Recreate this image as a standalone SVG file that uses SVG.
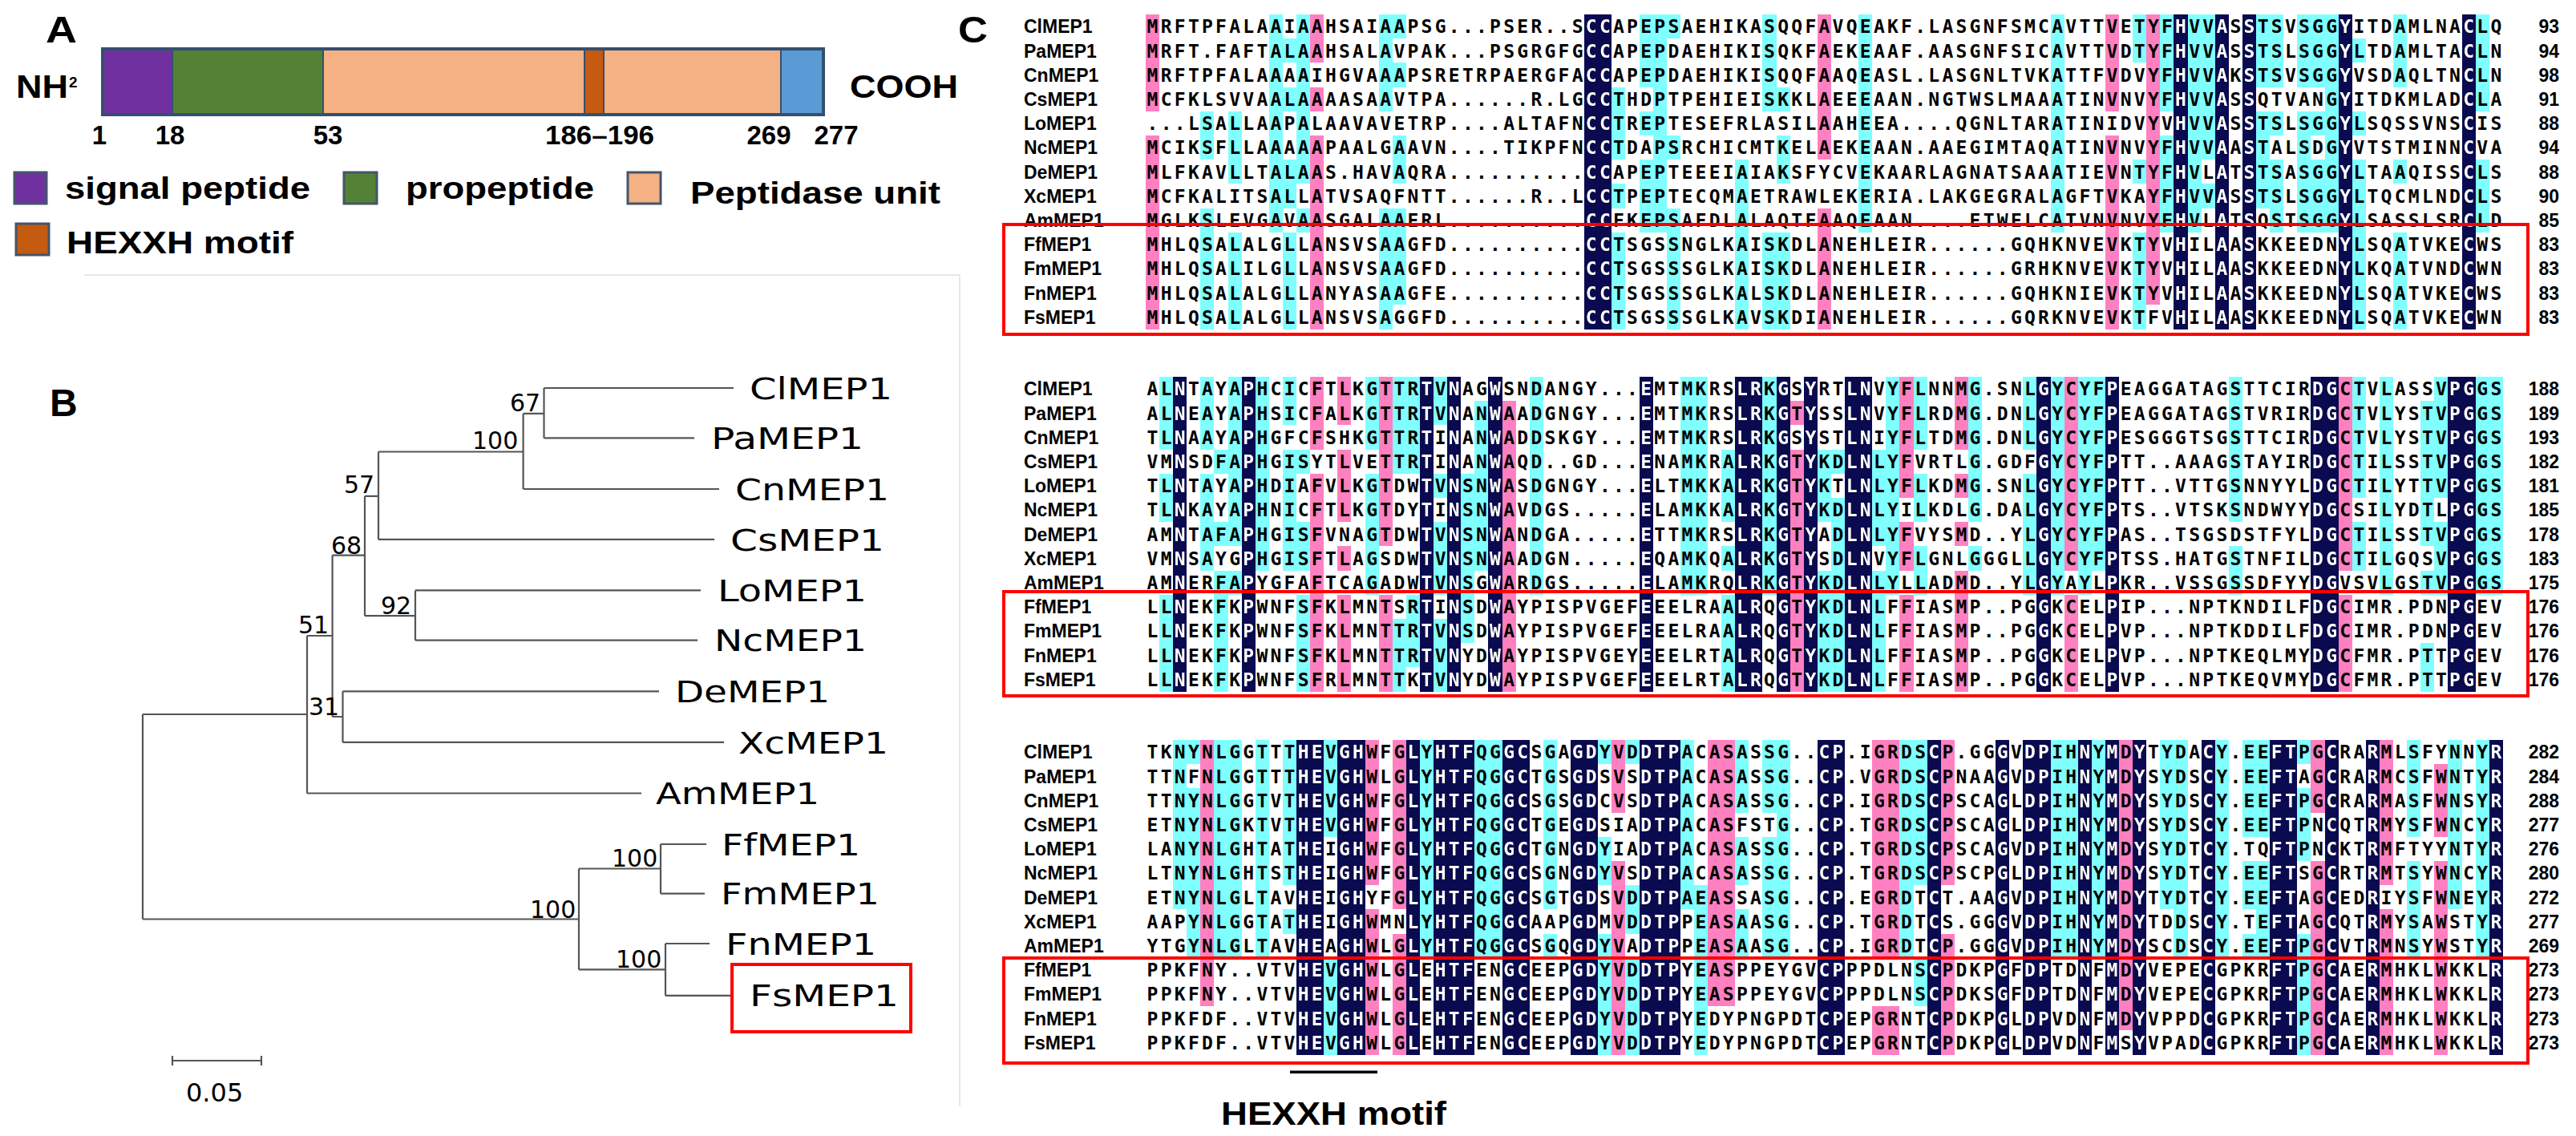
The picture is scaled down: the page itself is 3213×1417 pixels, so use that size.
<svg xmlns="http://www.w3.org/2000/svg" xmlns:xlink="http://www.w3.org/1999/xlink" width="3213" height="1417" viewBox="0 0 3213 1417">
<style>
.hd{font:700 47px "Liberation Sans",Arial,sans-serif;fill:#000}
.ab{font:700 40px "Liberation Sans",Arial,sans-serif;fill:#000}
.an{font:700 33px "Liberation Sans",Arial,sans-serif;fill:#000;text-anchor:middle}
.lg{font:700 38px "Liberation Sans",Arial,sans-serif;fill:#000}
.seg{stroke:#34506f;stroke-width:2}
.sw{stroke:#44546a;stroke-width:3}
.br{fill:none;stroke:#555;stroke-width:2.2}
.tl{font:37px "DejaVu Sans",Verdana,sans-serif;fill:#000}
.bs{font:30px "DejaVu Sans",Verdana,sans-serif;fill:#000}
.lb{font:700 23px "Liberation Sans",Arial,sans-serif;fill:#000}
.nm{font:700 23px "Liberation Sans",Arial,sans-serif;fill:#000;text-anchor:end}
.sq{font-family:"DejaVu Sans Mono",monospace;font-weight:700;font-size:23px;letter-spacing:3.253px}
.rb{fill:none;stroke:#ff0000;stroke-width:4}
</style>
<defs>
<g id="nv1" transform="translate(1428.95,-15.1) scale(17.1,30.2)"><rect x="32" y="0" width="2" height="13"/><rect x="75" y="0" width="1" height="13"/><rect x="78" y="0" width="1" height="13"/><rect x="80" y="0" width="1" height="13"/><rect x="87" y="0" width="1" height="13"/><rect x="96" y="0" width="1" height="13"/></g>
<g id="nv2" transform="translate(1428.95,-15.1) scale(17.1,30.2)"><rect x="2" y="0" width="1" height="13"/><rect x="7" y="0" width="1" height="13"/><rect x="20" y="0" width="1" height="13"/><rect x="22" y="0" width="1" height="13"/><rect x="25" y="0" width="1" height="13"/><rect x="36" y="0" width="1" height="13"/><rect x="43" y="0" width="2" height="13"/><rect x="46" y="0" width="1" height="13"/><rect x="48" y="0" width="1" height="13"/><rect x="51" y="0" width="2" height="13"/><rect x="65" y="0" width="1" height="13"/><rect x="70" y="0" width="1" height="13"/><rect x="85" y="0" width="2" height="13"/><rect x="95" y="0" width="2" height="13"/></g>
<g id="nv3" transform="translate(1428.95,-15.1) scale(17.1,30.2)"><rect x="11" y="0" width="2" height="13"/><rect x="14" y="0" width="2" height="13"/><rect x="19" y="0" width="1" height="13"/><rect x="21" y="0" width="3" height="13"/><rect x="26" y="0" width="2" height="13"/><rect x="31" y="0" width="2" height="13"/><rect x="36" y="0" width="3" height="13"/><rect x="49" y="0" width="2" height="13"/><rect x="57" y="0" width="1" height="13"/><rect x="62" y="0" width="1" height="13"/><rect x="64" y="0" width="2" height="13"/><rect x="68" y="0" width="1" height="13"/><rect x="70" y="0" width="1" height="13"/><rect x="72" y="0" width="1" height="13"/><rect x="77" y="0" width="1" height="13"/><rect x="82" y="0" width="2" height="13"/><rect x="86" y="0" width="1" height="13"/><rect x="89" y="0" width="1" height="13"/><rect x="98" y="0" width="1" height="13"/></g>
<mask id="m1" maskUnits="userSpaceOnUse" x="1400" y="-40" width="1800" height="440"><use href="#nv1" fill="#fff"/></mask>
<mask id="m2" maskUnits="userSpaceOnUse" x="1400" y="-40" width="1800" height="440"><use href="#nv2" fill="#fff"/></mask>
<mask id="m3" maskUnits="userSpaceOnUse" x="1400" y="-40" width="1800" height="440"><use href="#nv3" fill="#fff"/></mask>
<g id="t1" class="sq">
<text x="1430.6" y="8.3">MRFTPFALAAIAAHSAIAAPSG...PSER..SCCAPEPSAEHIKASQQFAVQEAKF.LASGNFSMCAVTTVETYFHVVASSTSVSGGYITDAMLNACLQ</text>
<text x="1430.6" y="38.5">MRFT.FAFTALAAHSALAVPAK...PSGRGFGCCAPEPDAEHIKISQKFAEKEAAF.AASGNFSICAVTTVDTYFHVVASSTSLSGGYLTDAMLTACLN</text>
<text x="1430.6" y="68.7">MRFTPFALAAAAIHGVAAAPSRETRPAERGFACCAPEPDAEHIKISQQFAAQEASL.LASGNLTVKATTFVDVYFHVVAKSTSVSGGYVSDAQLTNCLN</text>
<text x="1430.6" y="98.9">MCFKLSVVAALAAAASAAVTPA......R.LGCCTHDPTPEHIEISKKLAEEEAAN.NGTWSLMAAATINVNVYFHVVASSQTVANGYITDKMLADCLA</text>
<text x="1430.6" y="129.1">...LSALLAAPALAAVAVETRP....ALTAFNCCTREPTESEFRLASILAAHEEA....QGNLTARATINIDVYVHVVASSTSLSGGYLSQSSVNSCIS</text>
<text x="1430.6" y="159.3">MCIKSFLLAAAAAPAALGAAVN....TIKPFNCCTDAPSRCHICMTKELAEKEAAN.AAEGIMTAQATINVNVYFHVVAASTALSDGYVTSTMINNCVA</text>
<text x="1430.6" y="189.5">MLFKAVLLTALAAS.HAVAQRA..........CCAPEPTEEEIAIAKSFYCVEKAARLAGNATSAAATIEVNTYFHVLATSTSASGGYLTAAQISSCLS</text>
<text x="1430.6" y="219.7">MCFKALITSALLATVSAQFNTT......R..LCCTPEPTECQMAETRAWLEKERIA.LAKGEGRALAGFTVKAYFHVVASSTSLSGGYLTQCMLNDCLS</text>
<text x="1430.6" y="249.9">MGLKSLEVGAVAASGALAAERL..........CCFKEPSAFDLALAQTFAAQEAAN....ETWELCATVNVNVYFHVLATSQSTSGGYLSASSLSRCLD</text>
<text x="1430.6" y="280.1">MHLQSALALGLLANSVSAAGFD..........CCTSGSSNGLKAISKDLANEHLEIR......GQHKNVEVKTYVHILAASKKEEDNYLSQATVKECWS</text>
<text x="1430.6" y="310.3">MHLQSALILGLLANSVSAAGFD..........CCTSGSSSGLKAISKDLANEHLEIR......GRHKNVEVKTYVHILAASKKEEDNYLKQATVNDCWN</text>
<text x="1430.6" y="340.5">MHLQSALALGLLANYASAAGFE..........CCTSGSSSGLKALSKDLANEHLEIR......GQHKNIEVKTYVHILAASKKEEDNYLSQATVKECWS</text>
<text x="1430.6" y="370.7">MHLQSALALGLLANSVSAGGFD..........CCTSGSSSGLKAVSKDIANEHLEIR......GQRKNVEVKTFVHILAASKKEEDNYLSQATVKECWN</text>
</g>
<g id="t2" class="sq">
<text x="1430.6" y="8.3">ALNTAYAPHCICFTLKGTTRTVNAGWSNDANGY...EMTMKRSLRKGSYRTLNVYFLNNMG.SNLGYCYFPEAGGATAGSTTCIRDGCTVLASSVPGGS</text>
<text x="1430.6" y="38.5">ALNEAYAPHSICFALKGTTRTVNANWAADGNGY...EMTMKRSLRKGTYSSLNVYFLRDMG.DNLGYCYFPEAGGATAGSTVRIRDGCTVLYSTVPGGS</text>
<text x="1430.6" y="68.7">TLNAAYAPHGFCFSHKGTTRTINANWADDSKGY...EMTMKRSLRKGSYSTLNIYFLTDMG.DNLGYCYFPESGGGTSGSTTCIRDGCTVLYSTVPGGS</text>
<text x="1430.6" y="98.9">VMNSDFAPHGISYTLVETTRTINANWAQD..GD...ENAMKRALRKGTYKDLNLYFVRTLG.GDFGYCYFPTT..AAAGSTAYIRDGCTILSSTVPGGS</text>
<text x="1430.6" y="129.1">TLNTAYAPHDIAFVLKGTDWTVNSNWASDGNGY...ELTMKKALRKGTYKTLNLYFLKDMG.SNLGYCYFPTT..VTTGSNNYYLDGCTILYTTVPGGS</text>
<text x="1430.6" y="159.3">TLNKAYAPHNICFTLKGTDYTINSNWAVDGS.....ELAMKKALRKGTYKDLNLYILKDLG.DALGYCYFPTS..VTSKSNDWYYDGCSILYDTLPGGS</text>
<text x="1430.6" y="189.5">AMNTAFAPHGISFVNAGTDWTVNSNWANDGA.....ETTMKRSLRKGTYADLNLYFVYSMD..YLGYCYFPAS..TSGSDSTFYLDGCTILSSTVPGGS</text>
<text x="1430.6" y="219.7">VMNSAYGPHGISFTLAGSDWTVNSNWAADGN.....EQAMKQALRKGTYSDLNVYFLGNLGGGLLGYCYFPTSS.HATGSTNFILDGCTILGQSVPGGS</text>
<text x="1430.6" y="249.9">AMNERFAPYGFAFTCAGADWTVNSGWARDGS.....ELAMKRQLRKGTYKDLNLYLLADMD..YLGYAYLPKR..VSSGSSDFYYDGVSVLGSTVPGGS</text>
<text x="1430.6" y="280.1">LLNEKFKPWNFSFKLMNTSRTINSDWAYPISPVGEFEEELRAALRQGTYKDLNLFFIASMP..PGGKCELPIP...NPTKNDILFDGCIMR.PDNPGEV</text>
<text x="1430.6" y="310.3">LLNEKFKPWNFSFKLMNTTRTVNSDWAYPISPVGEFEEELRAALRQGTYKDLNLFFIASMP..PGGKCELPVP...NPTKDDILFDGCIMR.PDNPGEV</text>
<text x="1430.6" y="340.5">LLNEKFKPWNFSFKLMNTTRTVNYDWAYPISPVGEYEEELRTALRQGTYKDLNLFFIASMP..PGGKCELPVP...NPTKEQLMYDGCFMR.PTTPGEV</text>
<text x="1430.6" y="370.7">LLNEKFKPWNFSFRLMNTTKTVNYDWAYPISPVGEFEEELRTALRQGTYKDLNLFFIASMP..PGGKCELPVP...NPTKEQVMYDGCFMR.PTTPGEV</text>
</g>
<g id="t3" class="sq">
<text x="1430.6" y="8.3">TKNYNLGGTTTHEVGHWFGLYHTFQGGCSGAGDYVDDTPACASASSG..CP.IGRDSCP.GGGVDPIHNYMDYTYDACY.EEFTPGCRARMLSFYNNYR</text>
<text x="1430.6" y="38.5">TTNFNLGGTTTHEVGHWLGLYHTFQGGCTGSGDSVSDTPACASASSG..CP.VGRDSCPNAAGVDPIHNYMDYSYDSCY.EEFTAGCRARMCSFWNTYR</text>
<text x="1430.6" y="68.7">TTNYNLGGTVTHEVGHWFGLYHTFQGGCSGSGDCVSDTPACASASSG..CP.IGRDSCPSCAGLDPIHNYMDYSYDSCY.EEFTPGCRARMASFWNSYR</text>
<text x="1430.6" y="98.9">ETNYNLGKTVTHEVGHWFGLYHTFQGGCTGEGDSIADTPACASFSTG..CP.TGRDSCPSCAGLDPIHNYMDYSYDSCY.EEFTPNCQTRMYSFWNCYR</text>
<text x="1430.6" y="129.1">LANYNLGHTATHEIGHWFGLYHTFQGGCTGNGDYIADTPACASASSG..CP.TGRDSCPSCAGVDPIHNYMDYSYDTCY.TQFTPNCKTRMFTYYNTYR</text>
<text x="1430.6" y="159.3">LTNYNLGHTSTHEIGHWFGLYHTFQGGCSGNGDYVSDTPACASASSG..CP.TGRDSCPSCPGLDPIHNYMDYSYDTCY.EEFTSGCRTRMTSYWNCYR</text>
<text x="1430.6" y="189.5">ETNYNLGLTAVHEIGHYFGLYHTFQGGCSGTGDSVDDTPAEASSASG..CP.EGRDTCT.AAGVDPIHNYMDYTYDTCY.EEFTAGCEDRIYSFWNEYR</text>
<text x="1430.6" y="219.7">AAPYNLGGTATHEIGHWMNLYHTFQGGCAAPGDMVDDTPPEASAASG..CP.TGRDTCS.GGGVDPIHNYMDYTDDSCY.TEFTAGCQTRMYSAWSTYR</text>
<text x="1430.6" y="249.9">YTGYNLGLTAVHEAGHWLGLYHTFQGGCSGQGDYVADTPPEASAASG..CP.IGRDTCP.GGGVDPIHNYMDYSCDSCY.EEFTPGCVTRMNSYWSTYR</text>
<text x="1430.6" y="280.1">PPKFNY..VTVHEVGHWLGLEHTFENGCEEPGDYVDDTPYEASPPEYGVCPPPDLNSCPDKPGFDPTDNFMDYVEPECGPKRFTPGCAERMHKLWKKLR</text>
<text x="1430.6" y="310.3">PPKFNY..VTVHEVGHWLGLEHTFENGCEEPGDYVDDTPYEASPPEYGVCPPPDLNSCPDKSGFDPTDNFMDYVEPECGPKRFTPGCAERMHKLWKKLR</text>
<text x="1430.6" y="340.5">PPKFDF..VTVHEVGHWLGLEHTFENGCEEPGDYVDDTPYEDYPNGPDTCPEPGRNTCPDKPGLDPVDNFMDYVPPDCGPKRFTPGCAERMHKLWKKLR</text>
<text x="1430.6" y="370.7">PPKFDF..VTVHEVGHWLGLEHTFENGCEEPGDYVDDTPYEDYPNGPDTCPEPGRNTCPDKPGLDPVDNFMSYVPADCGPKRFTPGCAERMHKLWKKLR</text>
</g>
<g id="labs">
<text class="lb" x="1277" y="8.3">ClMEP1</text>
<text class="lb" x="1277" y="38.5">PaMEP1</text>
<text class="lb" x="1277" y="68.7">CnMEP1</text>
<text class="lb" x="1277" y="98.9">CsMEP1</text>
<text class="lb" x="1277" y="129.1">LoMEP1</text>
<text class="lb" x="1277" y="159.3">NcMEP1</text>
<text class="lb" x="1277" y="189.5">DeMEP1</text>
<text class="lb" x="1277" y="219.7">XcMEP1</text>
<text class="lb" x="1277" y="249.9">AmMEP1</text>
<text class="lb" x="1277" y="280.1">FfMEP1</text>
<text class="lb" x="1277" y="310.3">FmMEP1</text>
<text class="lb" x="1277" y="340.5">FnMEP1</text>
<text class="lb" x="1277" y="370.7">FsMEP1</text>
</g>
</defs>

<rect width="3213" height="1417" fill="#fff"/>

<g id="panelA">
<text class="hd" x="57" y="53" textLength="39" lengthAdjust="spacingAndGlyphs">A</text>
<g id="protein-bar">
<rect x="128" y="61" width="87" height="82" fill="#7030a0"/>
<rect x="215" y="61" width="188" height="82" fill="#538135"/>
<rect x="403" y="61" width="326" height="82" fill="#f4b183"/>
<rect x="729" y="61" width="24" height="82" fill="#c55a11"/>
<rect x="753" y="61" width="221" height="82" fill="#f4b183"/>
<rect x="974" y="61" width="53" height="82" fill="#5b9bd5"/>
<path class="seg" d="M215 61V143M403 61V143M729 61V143M753 61V143M974 61V143"/>
<rect x="128" y="61" width="899" height="82" fill="none" stroke="#34506f" stroke-width="4"/>
</g>
<text class="ab" x="20" y="122" textLength="65" lengthAdjust="spacingAndGlyphs">NH</text>
<text x="86" y="109" font-family="Liberation Sans, Arial, sans-serif" font-weight="700" font-size="19">2</text>
<text class="ab" x="1060" y="122" textLength="135" lengthAdjust="spacingAndGlyphs">COOH</text>
<text class="an" x="124" y="180">1</text>
<text class="an" x="212" y="180">18</text>
<text class="an" x="409" y="180">53</text>
<text class="an" x="748" y="180" textLength="136" lengthAdjust="spacingAndGlyphs">186–196</text>
<text class="an" x="959" y="180">269</text>
<text class="an" x="1043" y="180">277</text>
<g id="legend">
<rect class="sw" x="18" y="215" width="40" height="39" fill="#7030a0"/>
<text class="lg" x="81" y="248" textLength="306" lengthAdjust="spacingAndGlyphs">signal peptide</text>
<rect class="sw" x="429" y="215" width="41" height="39" fill="#538135"/>
<text class="lg" x="506" y="248" textLength="235" lengthAdjust="spacingAndGlyphs">propeptide</text>
<rect class="sw" x="783" y="215" width="41" height="39" fill="#f4b183"/>
<text class="lg" x="861" y="254" textLength="312" lengthAdjust="spacingAndGlyphs">Peptidase unit</text>
<rect class="sw" x="20" y="279" width="41" height="39" fill="#c55a11"/>
<text class="lg" x="83" y="316" textLength="283" lengthAdjust="spacingAndGlyphs">HEXXH motif</text>
</g>
</g>

<g id="panelB">
<path d="M105 343H1197V1380" fill="none" stroke="#e8e8e8" stroke-width="2"/>
<g transform="translate(0,45)">
<text class="hd" x="62" y="474" style="font-size:48px">B</text>
<g id="connectors">
<path class="br" d="M178 846V1101.5M178 846H383M178 1101.5H722M383 748V944.5M383 748H414.6M383 944.5H800M414.6 647.6V849M414.6 647.6H455M414.6 849H427.5M455 573.8V723.2M455 573.8H472M455 723.2H518M472 518.5V627.9M472 518.5H652.6M472 627.9H891M652.6 470.9V565M652.6 470.9H678.5M652.6 565H897M678.5 439V501.4M678.5 439H915M678.5 501.4H866M518 691.4V753.7M518 691.4H874M518 753.7H870M427.5 817.3V880.9M427.5 817.3H822M427.5 880.9H903M722 1038.5V1164.4M722 1038.5H824M722 1164.4H830M824 1008V1069.7M824 1008H881M824 1069.7H879M830 1132V1196.8M830 1132H885M830 1196.8H913"/>
</g>
<g id="bootstrap">
<text class="bs" x="636" y="468">67</text>
<text class="bs" x="589" y="515">100</text>
<text class="bs" x="429" y="570">57</text>
<text class="bs" x="413" y="646">68</text>
<text class="bs" x="475" y="721">92</text>
<text class="bs" x="372" y="745">51</text>
<text class="bs" x="385" y="847">31</text>
<text class="bs" x="763" y="1036">100</text>
<text class="bs" x="661" y="1100">100</text>
<text class="bs" x="768" y="1162">100</text>
</g>
<g id="tip-ClMEP1"><text class="tl" x="935" y="452.5" textLength="178" lengthAdjust="spacingAndGlyphs">ClMEP1</text></g>
<g id="tip-PaMEP1"><text class="tl" x="887" y="515" textLength="190" lengthAdjust="spacingAndGlyphs">PaMEP1</text></g>
<g id="tip-CnMEP1"><text class="tl" x="917" y="578.5" textLength="192" lengthAdjust="spacingAndGlyphs">CnMEP1</text></g>
<g id="tip-CsMEP1"><text class="tl" x="911" y="641.5" textLength="192" lengthAdjust="spacingAndGlyphs">CsMEP1</text></g>
<g id="tip-LoMEP1"><text class="tl" x="895" y="705" textLength="186" lengthAdjust="spacingAndGlyphs">LoMEP1</text></g>
<g id="tip-NcMEP1"><text class="tl" x="891" y="767" textLength="190" lengthAdjust="spacingAndGlyphs">NcMEP1</text></g>
<g id="tip-DeMEP1"><text class="tl" x="842" y="831" textLength="193" lengthAdjust="spacingAndGlyphs">DeMEP1</text></g>
<g id="tip-XcMEP1"><text class="tl" x="921" y="894.5" textLength="187" lengthAdjust="spacingAndGlyphs">XcMEP1</text></g>
<g id="tip-AmMEP1"><text class="tl" x="818" y="958" textLength="204" lengthAdjust="spacingAndGlyphs">AmMEP1</text></g>
<g id="tip-FfMEP1"><text class="tl" x="900" y="1021.5" textLength="173" lengthAdjust="spacingAndGlyphs">FfMEP1</text></g>
<g id="tip-FmMEP1"><text class="tl" x="899" y="1083" textLength="198" lengthAdjust="spacingAndGlyphs">FmMEP1</text></g>
<g id="tip-FnMEP1"><text class="tl" x="905" y="1145.5" textLength="188" lengthAdjust="spacingAndGlyphs">FnMEP1</text></g>
<g id="tip-FsMEP1"><text class="tl" x="935" y="1210" textLength="186" lengthAdjust="spacingAndGlyphs">FsMEP1</text><rect class="rb" x="913" y="1158" width="223" height="84"/></g>
<g id="scalebar">
<path d="M215 1278H326M215 1272V1284M326 1272V1284" fill="none" stroke="#555" stroke-width="2.2"/>
<text class="bs" x="232" y="1329" style="font-size:32px">0.05</text>
</g>
</g>
</g>

<g id="panelC">
<text class="hd" x="1195" y="53" textLength="37" lengthAdjust="spacingAndGlyphs">C</text>

<g id="block1" transform="translate(0,33)">
<g transform="translate(1428.95,-15.1) scale(17.1,30.2)" shape-rendering="crispEdges">
<g fill="#ff80c0"><rect x="0" y="0" width="1" height="4"/><rect x="0" y="5" width="1" height="8"/><rect x="12" y="0" width="1" height="2"/><rect x="12" y="3" width="1" height="1"/><rect x="12" y="5" width="1" height="8"/><rect x="49" y="0" width="1" height="6"/><rect x="49" y="8" width="1" height="5"/><rect x="70" y="0" width="1" height="4"/><rect x="70" y="5" width="1" height="8"/><rect x="73" y="0" width="1" height="12"/></g>
<g fill="#80ffff"><rect x="4" y="4" width="1" height="2"/><rect x="4" y="8" width="1" height="5"/><rect x="6" y="4" width="1" height="3"/><rect x="6" y="9" width="1" height="4"/><rect x="9" y="0" width="1" height="9"/><rect x="10" y="1" width="1" height="1"/><rect x="10" y="3" width="1" height="1"/><rect x="10" y="6" width="1" height="2"/><rect x="10" y="9" width="1" height="4"/><rect x="11" y="0" width="1" height="7"/><rect x="11" y="8" width="1" height="1"/><rect x="17" y="0" width="1" height="4"/><rect x="17" y="8" width="1" height="5"/><rect x="18" y="0" width="1" height="1"/><rect x="18" y="2" width="1" height="1"/><rect x="18" y="5" width="1" height="2"/><rect x="18" y="8" width="1" height="4"/><rect x="34" y="3" width="1" height="3"/><rect x="34" y="7" width="1" height="1"/><rect x="34" y="9" width="1" height="4"/><rect x="36" y="0" width="1" height="3"/><rect x="36" y="4" width="1" height="1"/><rect x="36" y="6" width="1" height="3"/><rect x="37" y="0" width="1" height="9"/><rect x="38" y="0" width="1" height="1"/><rect x="38" y="5" width="1" height="1"/><rect x="38" y="8" width="1" height="5"/><rect x="43" y="6" width="1" height="7"/><rect x="45" y="0" width="1" height="4"/><rect x="45" y="9" width="1" height="4"/><rect x="46" y="3" width="1" height="1"/><rect x="46" y="5" width="1" height="2"/><rect x="46" y="9" width="1" height="4"/><rect x="52" y="0" width="1" height="9"/><rect x="66" y="0" width="1" height="9"/><rect x="72" y="0" width="1" height="2"/><rect x="72" y="6" width="1" height="1"/><rect x="72" y="9" width="1" height="4"/><rect x="74" y="0" width="1" height="4"/><rect x="74" y="5" width="1" height="4"/><rect x="76" y="0" width="1" height="9"/><rect x="77" y="0" width="1" height="6"/><rect x="77" y="7" width="1" height="1"/><rect x="81" y="0" width="1" height="3"/><rect x="81" y="4" width="1" height="4"/><rect x="82" y="0" width="1" height="3"/><rect x="82" y="4" width="1" height="1"/><rect x="82" y="6" width="1" height="3"/><rect x="84" y="0" width="1" height="3"/><rect x="84" y="4" width="1" height="5"/><rect x="85" y="0" width="1" height="3"/><rect x="85" y="4" width="1" height="1"/><rect x="85" y="6" width="1" height="3"/><rect x="86" y="0" width="1" height="9"/><rect x="88" y="1" width="1" height="1"/><rect x="88" y="4" width="1" height="1"/><rect x="88" y="6" width="1" height="7"/><rect x="91" y="0" width="1" height="3"/><rect x="91" y="6" width="1" height="1"/><rect x="91" y="9" width="1" height="4"/><rect x="97" y="0" width="1" height="4"/><rect x="97" y="6" width="1" height="3"/></g>
</g>
<use href="#nv1" fill="#0a0a50" shape-rendering="crispEdges"/>
<use href="#t1" fill="#000"/>
<use href="#t1" fill="#fff" mask="url(#m1)"/>
<use href="#labs"/>
<g class="nm"><text x="3192" y="8.3">93</text><text x="3192" y="38.5">94</text><text x="3192" y="68.7">98</text><text x="3192" y="98.9">91</text><text x="3192" y="129.1">88</text><text x="3192" y="159.3">94</text><text x="3192" y="189.5">88</text><text x="3192" y="219.7">90</text><text x="3192" y="249.9">85</text><text x="3192" y="280.1">83</text><text x="3192" y="310.3">83</text><text x="3192" y="340.5">83</text><text x="3192" y="370.7">83</text></g>
<rect class="rb" x="1252" y="247" width="1901" height="137"/>
</g>

<g id="block2" transform="translate(0,485)">
<g transform="translate(1428.95,-15.1) scale(17.1,30.2)" shape-rendering="crispEdges">
<g fill="#ff80c0"><rect x="12" y="0" width="1" height="3"/><rect x="12" y="4" width="1" height="9"/><rect x="14" y="0" width="1" height="2"/><rect x="14" y="3" width="1" height="3"/><rect x="14" y="7" width="1" height="1"/><rect x="14" y="9" width="1" height="4"/><rect x="17" y="0" width="1" height="7"/><rect x="17" y="9" width="1" height="4"/><rect x="26" y="1" width="1" height="12"/><rect x="47" y="1" width="1" height="1"/><rect x="47" y="3" width="1" height="10"/><rect x="55" y="0" width="1" height="5"/><rect x="55" y="6" width="1" height="2"/><rect x="55" y="9" width="1" height="4"/><rect x="59" y="0" width="1" height="3"/><rect x="59" y="4" width="1" height="1"/><rect x="59" y="6" width="1" height="1"/><rect x="59" y="8" width="1" height="5"/><rect x="67" y="0" width="1" height="8"/><rect x="67" y="9" width="1" height="4"/><rect x="87" y="0" width="1" height="8"/><rect x="87" y="9" width="1" height="4"/></g>
<g fill="#80ffff"><rect x="1" y="0" width="1" height="3"/><rect x="1" y="4" width="1" height="2"/><rect x="1" y="9" width="1" height="4"/><rect x="4" y="0" width="1" height="3"/><rect x="4" y="4" width="1" height="4"/><rect x="5" y="3" width="1" height="1"/><rect x="5" y="6" width="1" height="1"/><rect x="5" y="8" width="1" height="5"/><rect x="6" y="0" width="1" height="7"/><rect x="6" y="8" width="1" height="1"/><rect x="8" y="0" width="1" height="8"/><rect x="10" y="0" width="1" height="2"/><rect x="10" y="3" width="1" height="5"/><rect x="11" y="3" width="1" height="1"/><rect x="11" y="6" width="1" height="2"/><rect x="11" y="9" width="1" height="4"/><rect x="16" y="0" width="1" height="3"/><rect x="16" y="4" width="1" height="5"/><rect x="18" y="0" width="1" height="4"/><rect x="18" y="10" width="1" height="3"/><rect x="19" y="0" width="1" height="4"/><rect x="19" y="9" width="1" height="3"/><rect x="21" y="0" width="1" height="2"/><rect x="21" y="4" width="1" height="1"/><rect x="21" y="6" width="1" height="3"/><rect x="21" y="10" width="1" height="3"/><rect x="23" y="4" width="1" height="7"/><rect x="24" y="1" width="1" height="7"/><rect x="28" y="0" width="1" height="9"/><rect x="39" y="0" width="1" height="9"/><rect x="40" y="0" width="1" height="9"/><rect x="42" y="3" width="1" height="3"/><rect x="42" y="7" width="1" height="1"/><rect x="42" y="9" width="1" height="4"/><rect x="45" y="0" width="1" height="9"/><rect x="49" y="3" width="1" height="3"/><rect x="49" y="8" width="1" height="5"/><rect x="50" y="3" width="1" height="1"/><rect x="50" y="5" width="1" height="8"/><rect x="53" y="3" width="1" height="4"/><rect x="53" y="8" width="1" height="5"/><rect x="54" y="0" width="1" height="9"/><rect x="56" y="0" width="1" height="3"/><rect x="56" y="4" width="1" height="2"/><rect x="56" y="7" width="1" height="2"/><rect x="60" y="0" width="1" height="6"/><rect x="60" y="7" width="1" height="1"/><rect x="64" y="0" width="1" height="3"/><rect x="64" y="4" width="1" height="5"/><rect x="66" y="0" width="1" height="9"/><rect x="68" y="0" width="1" height="9"/><rect x="69" y="0" width="1" height="8"/><rect x="79" y="0" width="1" height="6"/><rect x="79" y="7" width="1" height="2"/><rect x="88" y="0" width="1" height="5"/><rect x="88" y="6" width="1" height="2"/><rect x="90" y="0" width="1" height="9"/><rect x="93" y="1" width="1" height="6"/><rect x="93" y="8" width="1" height="1"/><rect x="93" y="11" width="1" height="2"/><rect x="94" y="0" width="1" height="5"/><rect x="94" y="6" width="1" height="3"/><rect x="97" y="0" width="1" height="9"/><rect x="98" y="0" width="1" height="9"/></g>
</g>
<use href="#nv2" fill="#0a0a50" shape-rendering="crispEdges"/>
<use href="#t2" fill="#000"/>
<use href="#t2" fill="#fff" mask="url(#m2)"/>
<use href="#labs"/>
<g class="nm"><text x="3192" y="8.3">188</text><text x="3192" y="38.5">189</text><text x="3192" y="68.7">193</text><text x="3192" y="98.9">182</text><text x="3192" y="129.1">181</text><text x="3192" y="159.3">185</text><text x="3192" y="189.5">178</text><text x="3192" y="219.7">183</text><text x="3192" y="249.9">175</text><text x="3192" y="280.1">176</text><text x="3192" y="310.3">176</text><text x="3192" y="340.5">176</text><text x="3192" y="370.7">176</text></g>
<rect class="rb" x="1252" y="253" width="1901" height="130"/>
</g>

<g id="block3" transform="translate(0,938)">
<g transform="translate(1428.95,-15.1) scale(17.1,30.2)" shape-rendering="crispEdges">
<g fill="#ff80c0"><rect x="4" y="0" width="1" height="11"/><rect x="16" y="0" width="1" height="6"/><rect x="16" y="7" width="1" height="6"/><rect x="18" y="0" width="1" height="7"/><rect x="18" y="8" width="1" height="5"/><rect x="34" y="0" width="1" height="3"/><rect x="34" y="5" width="1" height="8"/><rect x="41" y="0" width="1" height="11"/><rect x="42" y="0" width="1" height="11"/><rect x="53" y="0" width="1" height="9"/><rect x="53" y="11" width="1" height="2"/><rect x="54" y="0" width="1" height="9"/><rect x="54" y="11" width="1" height="2"/><rect x="58" y="0" width="1" height="6"/><rect x="58" y="8" width="1" height="5"/><rect x="71" y="0" width="1" height="12"/><rect x="85" y="0" width="1" height="3"/><rect x="85" y="5" width="1" height="8"/><rect x="90" y="0" width="1" height="6"/><rect x="90" y="7" width="1" height="6"/><rect x="94" y="1" width="1" height="3"/><rect x="94" y="5" width="1" height="8"/></g>
<g fill="#80ffff"><rect x="2" y="0" width="1" height="7"/><rect x="3" y="0" width="1" height="1"/><rect x="3" y="2" width="1" height="7"/><rect x="5" y="0" width="1" height="9"/><rect x="6" y="0" width="1" height="9"/><rect x="8" y="0" width="1" height="9"/><rect x="10" y="0" width="1" height="6"/><rect x="10" y="7" width="1" height="1"/><rect x="13" y="0" width="1" height="4"/><rect x="13" y="9" width="1" height="4"/><rect x="20" y="0" width="1" height="9"/><rect x="24" y="0" width="1" height="9"/><rect x="25" y="0" width="1" height="9"/><rect x="29" y="0" width="1" height="7"/><rect x="29" y="8" width="1" height="1"/><rect x="33" y="0" width="1" height="1"/><rect x="33" y="4" width="1" height="2"/><rect x="33" y="8" width="1" height="5"/><rect x="35" y="0" width="1" height="1"/><rect x="35" y="6" width="1" height="2"/><rect x="35" y="9" width="1" height="4"/><rect x="39" y="0" width="1" height="7"/><rect x="40" y="6" width="1" height="7"/><rect x="43" y="0" width="1" height="3"/><rect x="43" y="4" width="1" height="2"/><rect x="43" y="7" width="1" height="2"/><rect x="45" y="0" width="1" height="3"/><rect x="45" y="4" width="1" height="5"/><rect x="46" y="0" width="1" height="9"/><rect x="55" y="0" width="1" height="9"/><rect x="56" y="0" width="1" height="6"/><rect x="56" y="9" width="1" height="2"/><rect x="66" y="0" width="1" height="9"/><rect x="67" y="0" width="1" height="9"/><rect x="69" y="0" width="1" height="9"/><rect x="74" y="0" width="1" height="7"/><rect x="75" y="0" width="1" height="9"/><rect x="78" y="0" width="1" height="9"/><rect x="80" y="0" width="1" height="4"/><rect x="80" y="5" width="1" height="2"/><rect x="80" y="8" width="1" height="1"/><rect x="81" y="0" width="1" height="4"/><rect x="81" y="5" width="1" height="4"/><rect x="84" y="0" width="1" height="1"/><rect x="84" y="2" width="1" height="3"/><rect x="84" y="8" width="1" height="5"/><rect x="92" y="0" width="1" height="4"/><rect x="92" y="5" width="1" height="4"/><rect x="95" y="0" width="1" height="7"/><rect x="97" y="0" width="1" height="9"/></g>
</g>
<use href="#nv3" fill="#0a0a50" shape-rendering="crispEdges"/>
<use href="#t3" fill="#000"/>
<use href="#t3" fill="#fff" mask="url(#m3)"/>
<use href="#labs"/>
<g class="nm"><text x="3192" y="8.3">282</text><text x="3192" y="38.5">284</text><text x="3192" y="68.7">288</text><text x="3192" y="98.9">277</text><text x="3192" y="129.1">276</text><text x="3192" y="159.3">280</text><text x="3192" y="189.5">272</text><text x="3192" y="219.7">277</text><text x="3192" y="249.9">269</text><text x="3192" y="280.1">273</text><text x="3192" y="310.3">273</text><text x="3192" y="340.5">273</text><text x="3192" y="370.7">273</text></g>
<rect class="rb" x="1252" y="257" width="1901" height="131"/>
</g>

<g id="motif">
<rect x="1609" y="1335.5" width="109" height="3.5" fill="#000"/>
<text x="1523" y="1403" font-family="Liberation Sans, Arial, sans-serif" font-weight="700" font-size="40" textLength="281" lengthAdjust="spacingAndGlyphs">HEXXH motif</text>
</g>
</g>
</svg>
